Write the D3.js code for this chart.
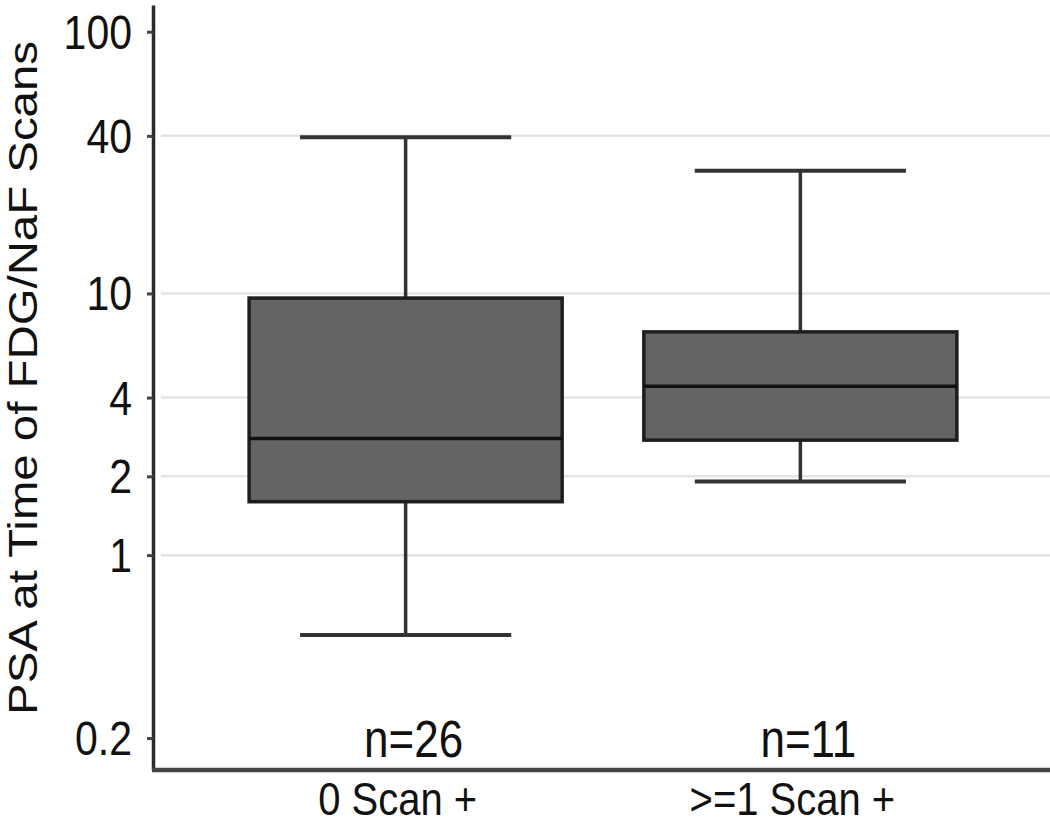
<!DOCTYPE html>
<html>
<head>
<meta charset="utf-8">
<script src="https://cdn.jsdelivr.net/npm/d3@7/dist/d3.min.js"></script>
<style>
  html, body { margin: 0; padding: 0; background: #fff; }
  svg { display: block; }
  text { font-family: "Liberation Sans", Arial, Helvetica, sans-serif; fill: #111; }
</style>
</head>
<body>
<svg id="chart" width="1050" height="825"></svg>
<script>
// ---- data ----
const categories = ["0 Scan +", ">=1 Scan +"];
const whiskerLow = [0.495, 1.91];
const q1 = [1.60, 2.75];
const median = [2.79, 4.42];
const q3 = [9.6, 7.13];
const whiskerHigh = [39.5, 29.4];
const counts = ["n=26", "n=11"];
const yTicks = [0.2, 1, 2, 4, 10, 40, 100];
const yTickLabels = ["0.2", "1", "2", "4", "10", "40", "100"];
const gridValues = [1, 2, 4, 10, 40];
const yTitle = "PSA at Time of FDG/NaF Scans";

// ---- layout ----
const W = 1050, H = 825;
const axisX = 153, axisBottom = 770, axisTop = 5;
const stretch = 1.17;

const svg = d3.select("#chart");

const y = d3.scaleLog().domain([0.151, 126.5]).range([axisBottom, axisTop]);
const x = d3.scalePoint().domain(categories).range([153, 1053]).padding(0.64);
const step = x.step();
const boxW = step * 0.793;
const capW = step * 0.535;

// gridlines
svg.append("g").selectAll("line").data(gridValues).join("line")
  .attr("x1", axisX + 8).attr("x2", W)
  .attr("y1", d => y(d)).attr("y2", d => y(d))
  .attr("stroke", "#e4e4e4").attr("stroke-width", 2.5);

// y axis
const yAxis = d3.axisLeft(y).tickValues(yTicks).tickFormat("").tickSize(6).tickSizeOuter(0);
const gy = svg.append("g").attr("transform", `translate(${axisX},0)`).call(yAxis);
gy.select(".domain").attr("stroke", "#2a2a2a").attr("stroke-width", 3.5);
gy.selectAll(".tick line").attr("stroke", "#444").attr("stroke-width", 3);

// y tick labels
svg.append("g").selectAll("text").data(yTicks).join("text")
  .attr("transform", d => `translate(${axisX - 21},${y(d) + 17}) scale(1,${stretch})`)
  .attr("text-anchor", "end")
  .style("font-size", "41px")
  .text((d, i) => yTickLabels[i]);

// y title
svg.append("text")
  .attr("transform", `translate(37,378) scale(1,${stretch}) rotate(-90)`)
  .attr("text-anchor", "middle")
  .style("font-size", "40.5px")
  .text(yTitle);

// x axis line
const xAxis = d3.axisBottom(x).tickSize(0).tickFormat("");
const gx = svg.append("g").attr("transform", `translate(0,${axisBottom})`).call(xAxis);
gx.select(".domain").attr("d", `M${axisX - 1},0H${W}`).attr("stroke", "#444").attr("stroke-width", 4.5);

// x labels
svg.append("g").selectAll("text").data(categories).join("text")
  .attr("transform", d => `translate(${x(d) - 8},${axisBottom + 45}) scale(1,${stretch})`)
  .attr("text-anchor", "middle")
  .style("font-size", "40px")
  .text(d => d);

// boxes
const idx = d3.range(categories.length);
const boxes = svg.append("g").selectAll("g").data(idx).join("g");

// whisker stems
boxes.append("line")
  .attr("x1", i => x(categories[i])).attr("x2", i => x(categories[i]))
  .attr("y1", i => y(whiskerHigh[i])).attr("y2", i => y(q3[i]))
  .attr("stroke", "#333").attr("stroke-width", 3.5);
boxes.append("line")
  .attr("x1", i => x(categories[i])).attr("x2", i => x(categories[i]))
  .attr("y1", i => y(q1[i])).attr("y2", i => y(whiskerLow[i]))
  .attr("stroke", "#333").attr("stroke-width", 3.5);
// caps
boxes.append("line")
  .attr("x1", i => x(categories[i]) - capW / 2).attr("x2", i => x(categories[i]) + capW / 2)
  .attr("y1", i => y(whiskerHigh[i])).attr("y2", i => y(whiskerHigh[i]))
  .attr("stroke", "#333").attr("stroke-width", 4);
boxes.append("line")
  .attr("x1", i => x(categories[i]) - capW / 2).attr("x2", i => x(categories[i]) + capW / 2)
  .attr("y1", i => y(whiskerLow[i])).attr("y2", i => y(whiskerLow[i]))
  .attr("stroke", "#333").attr("stroke-width", 4);
// box
boxes.append("rect")
  .attr("x", i => x(categories[i]) - boxW / 2)
  .attr("width", boxW)
  .attr("y", i => y(q3[i]))
  .attr("height", i => y(q1[i]) - y(q3[i]))
  .attr("fill", "#646464").attr("stroke", "#1e1e1e").attr("stroke-width", 3.5);
// median
boxes.append("line")
  .attr("x1", i => x(categories[i]) - boxW / 2).attr("x2", i => x(categories[i]) + boxW / 2)
  .attr("y1", i => y(median[i])).attr("y2", i => y(median[i]))
  .attr("stroke", "#111").attr("stroke-width", 3.5);

// counts
svg.append("g").selectAll("text").data(idx).join("text")
  .attr("transform", i => `translate(${x(categories[i]) + 8},${y(0.2) + 19}) scale(1,${stretch})`)
  .attr("text-anchor", "middle")
  .style("font-size", "44px")
  .text(i => counts[i]);
</script>
</body>
</html>
